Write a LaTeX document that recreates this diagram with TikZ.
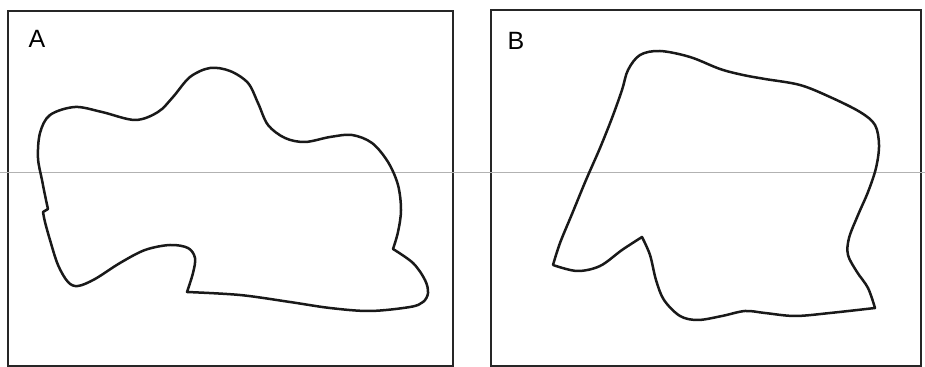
\documentclass[tikz,border=0pt]{standalone}
\usepackage{fontspec}
\setsansfont{Liberation Sans}
\usetikzlibrary{positioning}
\tikzset{
  panel/.style={draw=black!85, line width=1pt},
  outline/.style={draw=black!90, line width=1.25pt, line join=round},
  guide/.style={draw=black!30, line width=0.5pt},
  tag/.style={font=\sffamily\fontsize{12.5}{12.5}\selectfont, inner sep=0pt},
}

\begin{document}
\begin{tikzpicture}[x=0.5pt, y=-0.5pt]
    \useasboundingbox (0,0) rectangle (925,367);

    % two frames and the level line
    \draw[panel] (8,11) rectangle (453,366);
    \draw[panel] (491,10) rectangle (921,366);
    \draw[guide] (0,173) -- (925,173);

    \node[tag] (labA) at (37,39) {A};
    \node[tag] (labB) at (516,41) {B};

    % outline A
    \draw[outline]
      plot[smooth, tension=0.55] coordinates {(393,249) (413,263) (425,280) (428,293) (423,302) (410,307) (370,311) (330,308) (290,302) (240,295) (187,292)}
      -- plot[smooth, tension=0.55] coordinates {(187,292) (193,273) (195,258) (188,248) (170,245) (145,250) (120,263) (95,279) (78,286) (68,282) (58,265) (50,240) (45,222) (43,212)}
      -- (48,209)
      -- plot[smooth, tension=0.55] coordinates {(48,209) (46,200) (42,180) (38,158) (40,133) (50,115) (75,107) (102,112) (135,120) (158,112) (173,97) (190,77) (210,68) (230,71) (248,83) (258,103) (268,125) (285,138) (305,142) (330,137) (352,135) (372,143) (388,162) (398,185) (401,210) (398,232) (393,249)}
      -- cycle;

    % outline B
    \draw[outline]
      plot[smooth, tension=0.55] coordinates {(875,308) (868,288) (857,272) (848,255) (849,238) (858,215) (868,192) (876,168) (879,145) (875,125) (860,112) (830,97) (800,85) (765,79) (743,75) (720,69) (690,57) (660,51) (640,55) (628,70) (622,90) (612,118) (600,148) (586,180) (572,214) (560,243) (553,265)}
      -- plot[smooth, tension=0.55] coordinates {(553,265) (577,271) (600,266) (622,250) (642,237)}
      -- plot[smooth, tension=0.55] coordinates {(642,237) (650,255) (656,280) (664,300) (680,316) (698,320) (722,316) (745,311) (765,313) (795,316) (830,313) (875,308)}
      -- cycle;
\end{tikzpicture}
\end{document}
